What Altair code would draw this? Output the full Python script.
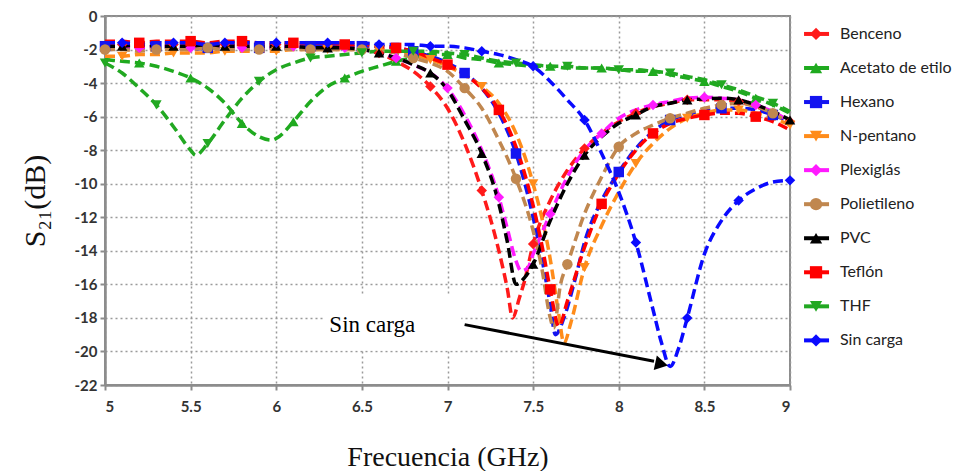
import altair as alt
import pandas as pd

SERIES = ["Benceno", "Acetato de etilo", "Hexano", "N-pentano", "Plexiglás",
          "Polietileno", "PVC", "Teflón", "THF", "Sin carga"]
COLORS = ["#ff1a1a", "#1faa1f", "#1414f0", "#ff8c1a", "#ff1aff",
          "#c0874f", "#000000", "#ff0000", "#22a822", "#0a0aff"]
SHAPES = ["diamond", "triangle-up", "square", "triangle-down", "diamond",
          "circle", "triangle-up", "square", "triangle-down", "diamond"]

X_TICKS = [5, 5.5, 6, 6.5, 7, 7.5, 8, 8.5, 9]
Y_TICKS = [0, -2, -4, -6, -8, -10, -12, -14, -16, -18, -20, -22]

X_FLAT = [5.0, 5.1, 5.2, 5.3, 5.4, 5.5, 5.6, 5.7, 5.8, 5.9, 6.0, 6.1, 6.2, 6.3, 6.4]

benceno_x = X_FLAT + [6.5, 6.6, 6.7, 6.8, 6.9, 7.0, 7.1, 7.2, 7.3, 7.35, 7.38, 7.42, 7.45, 7.5, 7.6, 7.7,
                      7.8, 7.9, 8.0, 8.1, 8.2, 8.3, 8.4, 8.5, 8.6, 8.7, 8.8, 8.9, 9.0]
benceno_y = [-1.7, -1.7, -1.6, -1.7, -1.7, -1.6, -1.7, -1.7, -1.6, -1.7, -1.7, -1.7, -1.7, -1.8, -1.8,
             -1.9, -2.2, -2.7, -3.3, -4.2, -5.5, -7.6, -10.4, -14.0, -16.3, -18.0, -16.8, -15.8, -13.6,
             -11.0, -9.2, -7.9, -7.0, -6.3, -5.8, -5.4, -5.2, -5.0, -5.0, -5.0, -5.1, -5.4, -5.8, -6.3]

acetato_x = [5.0, 5.1, 5.2, 5.3, 5.4, 5.5, 5.6, 5.7, 5.8, 5.9, 5.97, 6.0, 6.1, 6.2, 6.3, 6.4, 6.5, 6.6,
             6.7, 6.8, 6.9, 7.0, 7.1, 7.2, 7.3, 7.4, 7.5, 7.6, 7.7, 7.8, 7.9, 8.0, 8.1, 8.2, 8.3, 8.4,
             8.5, 8.6, 8.7, 8.8, 8.9, 9.0]
acetato_y = [-2.6, -2.7, -2.8, -3.0, -3.3, -3.7, -4.3, -5.2, -6.4, -7.2, -7.4, -7.3, -6.3, -5.1, -4.2,
             -3.7, -3.3, -3.0, -2.7, -2.5, -2.3, -2.3, -2.5, -2.6, -2.8, -2.9, -3.0, -3.0, -3.1, -3.1,
             -3.1, -3.2, -3.3, -3.3, -3.5, -3.7, -3.9, -4.2, -4.5, -4.9, -5.3, -5.8]

hexano_x = X_FLAT + [6.5, 6.6, 6.7, 6.8, 6.9, 7.0, 7.1, 7.2, 7.3, 7.4, 7.5, 7.55, 7.6, 7.63, 7.68, 7.75,
                     7.8, 7.9, 8.0, 8.1, 8.2, 8.3, 8.4, 8.5, 8.6, 8.7, 8.8, 8.9, 9.0]
hexano_y = [-1.8, -1.9, -1.9, -1.8, -1.9, -2.0, -1.9, -2.0, -2.0, -1.9, -1.9, -1.9, -1.8, -1.8, -1.8,
            -1.8, -1.8, -1.9, -2.1, -2.4, -2.8, -3.4, -4.3, -5.8, -8.2, -12.0, -14.4, -17.2, -19.0,
            -18.0, -15.5, -13.5, -11.0, -9.3, -7.9, -6.9, -6.2, -5.9, -5.7, -5.5, -5.5, -5.6, -5.9, -6.3]

pentano_x = X_FLAT + [6.5, 6.6, 6.7, 6.8, 6.9, 7.0, 7.1, 7.2, 7.3, 7.4, 7.5, 7.6, 7.65, 7.68, 7.72, 7.8,
                      7.9, 8.0, 8.1, 8.2, 8.3, 8.4, 8.5, 8.6, 8.7, 8.8, 8.9, 9.0]
pentano_y = [-2.4, -2.4, -2.3, -2.3, -2.2, -2.2, -2.2, -2.1, -2.1, -2.1, -2.1, -2.0, -2.0, -2.0, -2.0,
             -2.0, -2.0, -2.1, -2.3, -2.6, -3.0, -3.5, -4.2, -5.2, -7.0, -10.0, -14.5, -17.8, -19.5,
             -18.3, -15.0, -12.5, -10.5, -8.8, -7.6, -6.7, -6.1, -5.8, -5.6, -5.6, -5.8, -6.1, -6.5]

plexi_x = X_FLAT + [6.5, 6.6, 6.7, 6.8, 6.9, 7.0, 7.1, 7.2, 7.3, 7.35, 7.4, 7.43, 7.47, 7.5, 7.6, 7.7,
                    7.8, 7.9, 8.0, 8.1, 8.2, 8.3, 8.4, 8.5, 8.6, 8.7, 8.8, 8.9, 9.0]
plexi_y = [-1.9, -1.8, -1.9, -1.9, -1.8, -1.9, -1.9, -1.8, -1.9, -1.9, -1.9, -1.8, -1.9, -1.9, -1.9,
           -2.0, -2.2, -2.5, -2.9, -3.4, -4.3, -5.9, -8.0, -10.8, -12.7, -14.6, -15.2, -15.0, -14.2,
           -11.8, -9.6, -8.0, -7.0, -6.1, -5.6, -5.3, -5.1, -4.9, -4.85, -4.9, -5.0, -5.3, -5.7, -6.3]

polie_x = X_FLAT + [6.5, 6.6, 6.7, 6.8, 6.9, 7.0, 7.1, 7.2, 7.3, 7.4, 7.5, 7.55, 7.6, 7.62, 7.66, 7.7,
                    7.8, 7.9, 8.0, 8.1, 8.2, 8.3, 8.4, 8.5, 8.6, 8.7, 8.8, 8.9, 9.0]
polie_y = [-2.0, -2.0, -2.1, -2.0, -2.0, -2.0, -1.9, -2.0, -2.0, -2.0, -1.9, -2.0, -2.0, -2.0, -2.0,
           -2.0, -2.1, -2.2, -2.5, -2.8, -3.3, -4.3, -5.5, -7.4, -9.7, -12.8, -15.0, -18.0, -18.6,
           -16.0, -14.8, -11.8, -9.6, -7.8, -7.0, -6.5, -6.1, -5.8, -5.5, -5.3, -5.2, -5.4, -5.8, -6.4]

pvc_x = X_FLAT + [6.5, 6.6, 6.7, 6.8, 6.9, 7.0, 7.1, 7.2, 7.3, 7.35, 7.4, 7.45, 7.5, 7.6, 7.7, 7.8,
                  7.9, 8.0, 8.1, 8.2, 8.3, 8.4, 8.5, 8.6, 8.7, 8.8, 8.9, 9.0]
pvc_y = [-1.8, -1.8, -1.7, -1.8, -1.8, -1.8, -1.7, -1.8, -1.8, -1.8, -1.8, -1.8, -1.9, -1.9, -1.9,
         -2.0, -2.2, -2.5, -2.9, -3.4, -4.4, -6.2, -8.2, -11.2, -13.5, -16.0, -15.6, -14.8, -12.2,
         -10.0, -8.3, -7.2, -6.4, -5.9, -5.4, -5.2, -5.0, -4.95, -4.9, -5.0, -5.3, -5.7, -6.2]

teflon_x = X_FLAT + [6.5, 6.6, 6.7, 6.8, 6.9, 7.0, 7.1, 7.2, 7.3, 7.4, 7.5, 7.55, 7.6, 7.65, 7.7, 7.8,
                     7.9, 8.0, 8.1, 8.2, 8.3, 8.4, 8.5, 8.6, 8.7, 8.8, 8.9, 9.0]
teflon_y = [-1.5, -1.5, -1.6, -1.5, -1.5, -1.5, -1.6, -1.5, -1.5, -1.6, -1.6, -1.6, -1.6, -1.6, -1.7,
            -1.7, -1.8, -1.9, -2.1, -2.5, -2.9, -3.5, -4.3, -5.6, -7.8, -11.3, -13.6, -16.3, -18.5,
            -17.0, -13.8, -11.2, -9.4, -8.0, -7.0, -6.4, -6.1, -5.9, -5.8, -5.8, -6.0, -6.3, -6.8]

thf_x = [5.0, 5.1, 5.2, 5.3, 5.4, 5.5, 5.53, 5.6, 5.7, 5.8, 5.9, 6.0, 6.1, 6.2, 6.3, 6.4, 6.5, 6.6,
         6.7, 6.8, 6.9, 7.0, 7.1, 7.2, 7.3, 7.4, 7.5, 7.6, 7.7, 7.8, 7.9, 8.0, 8.1, 8.2, 8.3, 8.4,
         8.5, 8.6, 8.7, 8.8, 8.9, 9.0]
thf_y = [-2.8, -3.4, -4.3, -5.3, -6.6, -8.0, -8.3, -7.6, -6.2, -4.9, -3.9, -3.2, -2.8, -2.5, -2.4,
         -2.3, -2.2, -2.1, -2.1, -2.1, -2.1, -2.2, -2.3, -2.5, -2.7, -2.8, -2.9, -3.0, -3.0, -3.1,
         -3.1, -3.2, -3.2, -3.3, -3.4, -3.6, -3.8, -4.1, -4.4, -4.8, -5.2, -5.7]

sincarga_x = X_FLAT + [6.5, 6.6, 6.7, 6.8, 6.9, 7.0, 7.1, 7.2, 7.3, 7.4, 7.5, 7.6, 7.7, 7.8, 7.9, 8.0,
                       8.1, 8.2, 8.25, 8.3, 8.35, 8.4, 8.5, 8.6, 8.7, 8.8, 8.9, 9.0]
sincarga_y = [-1.6, -1.6, -1.7, -1.6, -1.6, -1.6, -1.7, -1.6, -1.6, -1.6, -1.6, -1.6, -1.6, -1.6, -1.6,
              -1.6, -1.7, -1.7, -1.7, -1.8, -1.8, -1.9, -2.1, -2.3, -2.6, -3.0, -3.9, -5.0, -6.2,
              -8.2, -10.5, -13.5, -17.5, -19.5, -20.9, -19.8, -18.0, -14.2, -12.2, -11.0, -10.3,
              -9.9, -9.8]

XS = [benceno_x, acetato_x, hexano_x, pentano_x, plexi_x, polie_x, pvc_x, teflon_x, thf_x, sincarga_x]
YS = [benceno_y, acetato_y, hexano_y, pentano_y, plexi_y, polie_y, pvc_y, teflon_y, thf_y, sincarga_y]

rows = []
for i, (name, xs, ys) in enumerate(zip(SERIES, XS, YS)):
    for x, y in zip(xs, ys):
        t = round(x * 10)
        on_grid = abs(x * 10 - t) < 1e-6
        rows.append({"f": x, "s": y, "serie": name, "mk": bool(on_grid and t % 3 == i % 3)})
df = pd.DataFrame(rows)

color = alt.Color("serie:N", scale=alt.Scale(domain=SERIES, range=COLORS), legend=None)
shape = alt.Shape("serie:N", scale=alt.Scale(domain=SERIES, range=SHAPES), legend=None)

xscale = alt.Scale(domain=[5, 9], nice=False, zero=False)
yscale = alt.Scale(domain=[-22, 0], nice=False)
xaxis = alt.Axis(values=X_TICKS, format="~g", title="Frecuencia (GHz)", labelOverlap=False)
yaxis = alt.Axis(values=Y_TICKS, title="S₂₁(dB)", labelOverlap=False,
                 labelExpr="'' + datum.value")
xenc = alt.X("f:Q", scale=xscale, axis=xaxis)
yenc = alt.Y("s:Q", scale=yscale, axis=yaxis)

base = alt.Chart(df)
lines = base.mark_line(strokeDash=[10, 5], strokeWidth=3.5, interpolate="monotone").encode(
    x=xenc, y=yenc, color=color, detail="serie:N")
points = base.transform_filter(alt.datum.mk).mark_point(filled=True, size=110, opacity=1).encode(
    x=xenc, y=yenc, color=color, shape=shape)

# annotation "Sin carga" with arrow
box = alt.Chart(pd.DataFrame({"f": [6.28], "f2": [7.08], "s": [-16.7], "s2": [-19.95]})).mark_rect(
    color="white").encode(x=xenc, x2="f2:Q", y=yenc, y2="s2:Q")
note = alt.Chart(pd.DataFrame({"f": [6.31], "s": [-18.4], "t": ["Sin carga"]})).mark_text(
    align="left", baseline="middle", font="Liberation Serif", fontSize=23, color="black").encode(
    x=xenc, y=yenc, text="t:N")
arrow = alt.Chart(pd.DataFrame({"f": [7.10], "s": [-18.4], "f2": [8.206], "s2": [-20.58]})).mark_rule(
    color="black", strokeWidth=3).encode(x=xenc, y=yenc, x2="f2:Q", y2="s2:Q")
head = alt.Chart(pd.DataFrame({"f": [8.25], "s": [-20.76]})).mark_point(
    shape="triangle-right", filled=True, size=220, color="black", opacity=1, angle=12).encode(
    x=xenc, y=yenc)

# manual legend placed to the right of the plot
leg = pd.DataFrame({"serie": SERIES, "row": list(range(len(SERIES)))})
leg_base = alt.Chart(leg).transform_calculate(
    s="-(1.07 + 2.03 * datum.row)", f="9.082", f2="9.228", fm="9.152", ft="9.292")
leg_line = leg_base.mark_rule(strokeWidth=4).encode(
    x=xenc, x2="f2:Q", y=yenc, color=color)
leg_pt = leg_base.mark_point(filled=True, size=150, opacity=1).encode(
    x=alt.X("fm:Q", scale=xscale, axis=xaxis), y=yenc, color=color, shape=shape)
leg_txt = leg_base.mark_text(align="left", baseline="middle", font="Lato", fontSize=16,
                             color="#222222").encode(
    x=alt.X("ft:Q", scale=xscale, axis=xaxis), y=yenc, text="serie:N")

chart = alt.layer(lines, box, points, note, arrow, head, leg_line, leg_pt, leg_txt).properties(
    width=685, height=369, padding={"left": 12, "right": 0, "top": 1, "bottom": 0}
).configure_view(stroke="#8c8c8c", strokeWidth=2).configure_axis(
    grid=True, gridColor="#9a9a9a", gridDash=[2, 3], gridWidth=1.5, gridOpacity=1,
    domainColor="#8c8c8c", domainWidth=2.5, tickColor="#8c8c8c", tickSize=5, tickWidth=2,
    labelFont="Lato", labelFontWeight="bold", labelFontSize=15, labelColor="#333333",
    titleFont="Liberation Serif", titleFontWeight="normal", titleColor="#111111", titleFontSize=30
).configure_axisX(labelPadding=9, titlePadding=29, titleFontSize=28).configure_axisY(
    labelPadding=3, titlePadding=24)

chart.save("out.html", embed_options={"renderer": "svg", "actions": False})
